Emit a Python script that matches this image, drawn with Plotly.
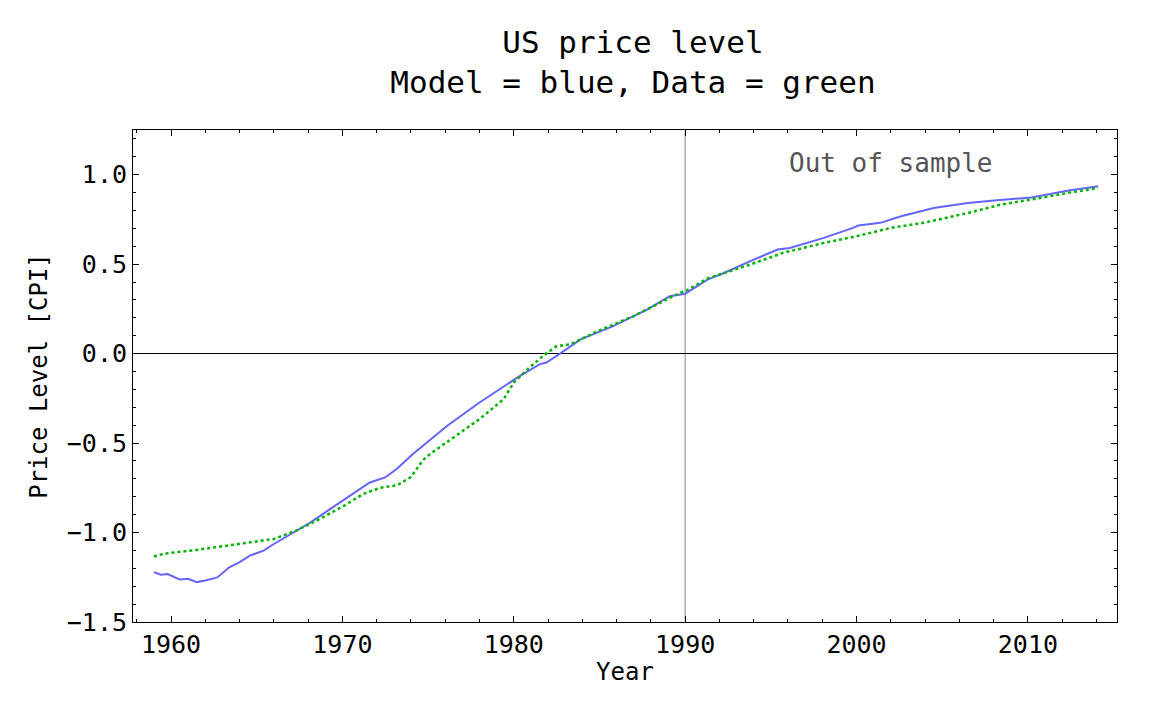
import plotly.graph_objects as go

# ================= DATA =================
model_years = [1959.0, 1959.4, 1959.8, 1960.5, 1961.0, 1961.5, 1962.0, 1962.7, 1963.4,
               1964.0, 1964.6, 1965.4, 1966.0, 1967.3, 1968.1, 1969.3, 1971.2, 1971.6,
               1972.5, 1973.2, 1974.1, 1976.1, 1978.0, 1980.2, 1981.5, 1981.9, 1982.7,
               1983.9, 1985.8, 1987.8, 1989.1, 1990.0, 1991.3, 1992.2, 1993.8, 1995.4,
               1996.1, 1998.1, 1999.8, 2000.1, 2001.4, 2002.6, 2004.5, 2006.5, 2008.2,
               2010.2, 2012.3, 2014.1]
model_level = [-1.221, -1.236, -1.232, -1.262, -1.258, -1.277, -1.268, -1.251, -1.194,
               -1.165, -1.129, -1.101, -1.064, -0.989, -0.946, -0.868, -0.747, -0.720,
               -0.692, -0.642, -0.562, -0.404, -0.273, -0.134, -0.060, -0.050, 0.000,
               0.080, 0.154, 0.247, 0.321, 0.335, 0.414, 0.448, 0.517, 0.582,
               0.591, 0.647, 0.703, 0.716, 0.731, 0.768, 0.814, 0.842, 0.857,
               0.873, 0.911, 0.935]

data_years = [1959.0, 1959.6, 1961.5, 1963.4, 1966.0, 1967.3, 1968.5, 1970.1, 1971.2,
              1972.2, 1973.2, 1974.0, 1974.7, 1975.1, 1976.1, 1978.0, 1979.4, 1980.0,
              1980.8, 1981.7, 1982.5, 1983.3, 1984.9, 1987.0, 1989.7, 1990.0, 1991.3,
              1993.8, 1995.7, 1998.1, 2000.0, 2002.0, 2003.9, 2006.5, 2008.4, 2010.2,
              2012.3, 2014.1]
data_level = [-1.134, -1.118, -1.097, -1.073, -1.036, -0.989, -0.933, -0.850, -0.785,
              -0.750, -0.735, -0.690, -0.595, -0.562, -0.496, -0.366, -0.255, -0.162,
              -0.088, -0.013, 0.042, 0.052, 0.126, 0.210, 0.340, 0.349, 0.420,
              0.498, 0.563, 0.619, 0.656, 0.703, 0.731, 0.786, 0.833, 0.861,
              0.898, 0.926]

SPLIT_YEAR = 1990
FONT = "DejaVu Sans Mono"

fig = go.Figure()
fig.add_trace(go.Scatter(
    x=model_years, y=model_level, mode="lines", name="Model",
    line=dict(color="#6464ff", width=2),
))
fig.add_trace(go.Scatter(
    x=data_years, y=data_level, mode="lines", name="Data",
    line=dict(color="#00b400", width=2.5, dash="dot"),
))

# in-sample / out-of-sample split
fig.add_shape(type="line", x0=SPLIT_YEAR, x1=SPLIT_YEAR, y0=0, y1=1,
              xref="x", yref="paper", line=dict(color="#888888", width=1), layer="below")
fig.add_annotation(x=2002, y=1.066, xref="x", yref="y", text="Out of sample",
                   showarrow=False, font=dict(family=FONT, size=26, color="#555555"))

axis_common = dict(
    showline=True, linecolor="black", linewidth=1, mirror="ticks",
    ticks="inside", ticklen=6, tickcolor="black", showgrid=False,
    tickfont=dict(family=FONT, size=25, color="black"),
)

fig.update_layout(
    title=dict(text="US price level<br>Model = blue, Data = green",
               x=0.5425, xanchor="center", y=0.937, yanchor="middle",
               font=dict(family=FONT, size=31, color="black")),
    width=1152, height=711,
    margin=dict(l=125, r=43, t=122, b=97),
    plot_bgcolor="white", paper_bgcolor="white",
    showlegend=False,
    xaxis=dict(range=[1957.78, 2015.2], dtick=10, tick0=1960,
               minor=dict(dtick=2, ticks="inside", ticklen=3, tickcolor="black"),
               zeroline=False,
               title=dict(text="Year", font=dict(family=FONT, size=24, color="black"),
                          standoff=5),
               **axis_common),
    yaxis=dict(range=[-1.5, 1.25], dtick=0.5, tick0=0, tickformat=".1f",
               minor=dict(dtick=0.1, ticks="inside", ticklen=3, tickcolor="black"),
               zeroline=True, zerolinecolor="black", zerolinewidth=1,
               title=dict(text="Price Level [CPI]",
                          font=dict(family=FONT, size=24, color="black"), standoff=12),
               **axis_common),
)

fig.write_html("out.html")
